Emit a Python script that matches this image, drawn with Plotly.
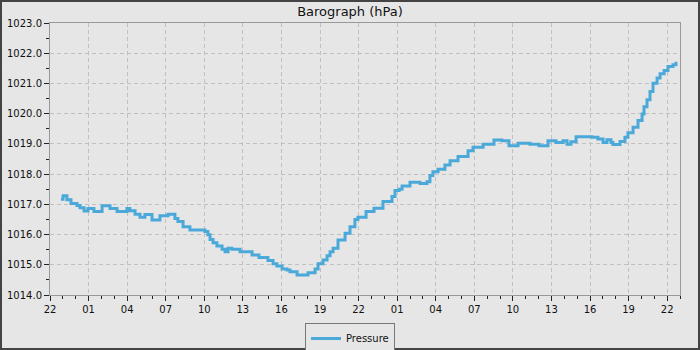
import pandas as pd
import plotly.graph_objects as go

# Minutes after the first 22:00 on the x axis, and barometer readings (hPa)
minutes = [51, 61, 79, 98, 126, 140, 159, 177, 205, 243, 280, 313, 341, 359, 373, 397,
           420, 443, 476, 513, 551, 583, 597, 621, 653, 681, 723, 737, 747, 761, 779,
           803, 817, 831, 849, 863, 887, 915, 943, 975, 1017, 1041, 1059, 1083, 1106,
           1120, 1153, 1204, 1223, 1237, 1251, 1274, 1293, 1307, 1321, 1344, 1377, 1400,
           1423, 1437, 1475, 1512, 1554, 1596, 1610, 1629, 1643, 1680, 1727, 1759, 1773,
           1787, 1811, 1843, 1867, 1904, 1951, 1974, 2021, 2072, 2109, 2142, 2184, 2240,
           2282, 2324, 2361, 2394, 2413, 2431, 2455, 2511, 2529, 2557, 2581, 2599, 2618,
           2627, 2660, 2683, 2697, 2721, 2744, 2763, 2772, 2786, 2800, 2814, 2833, 2847,
           2866, 2884, 2907, 2921]
pressure = [1017.17, 1017.28, 1017.15, 1017.03, 1016.96, 1016.89, 1016.78, 1016.86,
            1016.76, 1016.95, 1016.86, 1016.76, 1016.76, 1016.86, 1016.79, 1016.67,
            1016.57, 1016.66, 1016.48, 1016.62, 1016.67, 1016.53, 1016.43, 1016.26,
            1016.15, 1016.15, 1016.10, 1015.99, 1015.84, 1015.73, 1015.62, 1015.51,
            1015.43, 1015.55, 1015.51, 1015.51, 1015.43, 1015.43, 1015.32, 1015.24,
            1015.14, 1015.03, 1014.96, 1014.86, 1014.83, 1014.77, 1014.66, 1014.74,
            1014.74, 1014.86, 1015.03, 1015.16, 1015.30, 1015.43, 1015.55, 1015.82,
            1016.04, 1016.26, 1016.50, 1016.57, 1016.76, 1016.87, 1017.09, 1017.26,
            1017.46, 1017.50, 1017.61, 1017.73, 1017.69, 1017.75, 1017.95, 1018.08,
            1018.16, 1018.30, 1018.44, 1018.58, 1018.77, 1018.89, 1018.99, 1019.13,
            1019.10, 1018.94, 1019.02, 1018.99, 1018.94, 1019.10, 1019.05, 1019.10,
            1018.99, 1019.07, 1019.24, 1019.24, 1019.22, 1019.16, 1019.05, 1019.14,
            1019.05, 1018.98, 1019.08, 1019.22, 1019.37, 1019.55, 1019.77, 1019.99,
            1020.23, 1020.46, 1020.73, 1021.01, 1021.18, 1021.32, 1021.43, 1021.56,
            1021.62, 1021.72]

start = pd.Timestamp("2024-03-10 22:00")
times = start + pd.to_timedelta(minutes, unit="min")
x_end = start + pd.Timedelta(hours=49)

fig = go.Figure()
fig.add_trace(go.Scatter(
    x=times, y=pressure, mode="lines", name="Pressure",
    line=dict(color="#4aa9d9", width=3, shape="hv"),
))

grid = dict(showgrid=True, gridcolor="#c0c0c0", gridwidth=1, griddash="4px,3px")
fig.update_layout(
    width=700, height=350,
    paper_bgcolor="#e6e6e6", plot_bgcolor="#e6e6e6",
    margin=dict(l=50, r=20, t=23, b=55, autoexpand=False),
    font=dict(family="DejaVu Sans", size=10, color="#111111"),
    title=dict(text="Barograph (hPa)", x=0.5, xanchor="center", y=1 - 11 / 350,
               yanchor="middle", yref="container", font=dict(size=13, color="#111111")),
    showlegend=True,
    legend=dict(orientation="h", x=0.5, xanchor="center", xref="container",
                y=1 - 338.5 / 350, yanchor="middle", yref="container",
                bgcolor="#e6e6e6", bordercolor="#777777", borderwidth=1,
                font=dict(size=10), itemwidth=30),
    xaxis=dict(
        type="date", range=[start, x_end], tick0=start, dtick=3 * 3600000,
        tickformat="%H", ticks="outside", ticklen=5, tickcolor="#222222",
        showline=True, mirror=True, linecolor="#999999", linewidth=1,
        minor=dict(dtick=3600000, tick0=start, ticks="outside", ticklen=3,
                   tickcolor="#222222", showgrid=False),
        zeroline=False, automargin=False, **grid,
    ),
    yaxis=dict(
        range=[1014, 1023], dtick=1, tick0=1014, tickformat=".1f",
        ticks="outside", ticklen=5, tickcolor="#222222",
        showline=True, mirror=True, linecolor="#999999", linewidth=1,
        minor=dict(dtick=0.5, ticks="outside", ticklen=3, tickcolor="#222222",
                   showgrid=False),
        zeroline=False, automargin=False, **grid,
    ),
    shapes=[dict(type="rect", xref="paper", yref="paper",
                 x0=-50 / 630, x1=1 + 20 / 630, y0=-55 / 272, y1=1 + 23 / 272,
                 line=dict(color="#444444", width=4), fillcolor="rgba(0,0,0,0)",
                 layer="above")],
)

fig.write_html("out.html")
